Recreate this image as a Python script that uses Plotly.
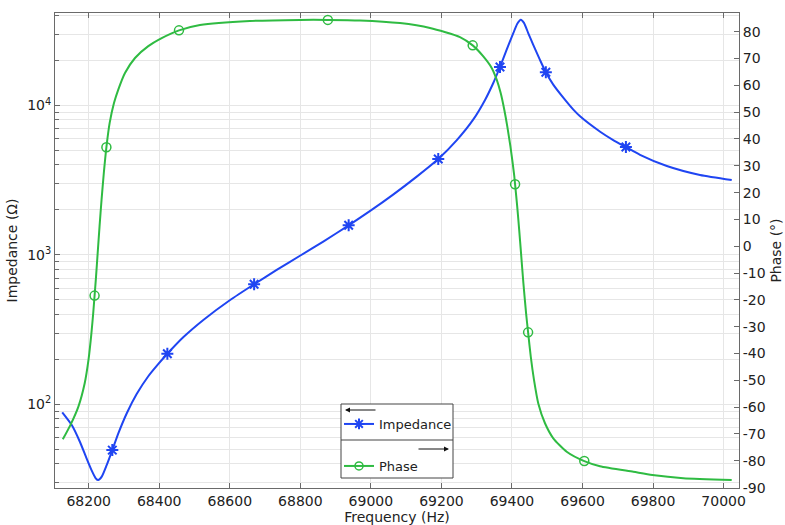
import plotly.graph_objects as go

# Impedance magnitude (ohm) versus frequency (Hz)
freq_imp = [68125, 68152, 68175, 68194, 68208, 68220, 68227, 68237, 68251, 68267,
            68284, 68308, 68336, 68369, 68397, 68423, 68468, 68525, 68601, 68669,
            68733, 68799, 68865, 68937, 68998, 69064, 69130, 69191, 69243, 69290,
            69324, 69347, 69366, 69385, 69404, 69415, 69425, 69434, 69446, 69460,
            69479, 69496, 69517, 69546, 69574, 69593, 69650, 69687, 69723, 69763,
            69839, 69933, 70023]
impedance = [88.4, 72.7, 56.2, 43.5, 36.3, 32.0, 31.1, 32.8, 39.2, 49.4,
             63.9, 87.2, 117.2, 154.2, 185.8, 218, 281, 367, 499, 636,
             793, 987, 1228, 1578, 1970, 2543, 3343, 4385, 5842, 8035,
             10935, 14148, 18096, 23634, 30573, 35280, 37520, 35730, 30550, 25530,
             20260, 16680, 13780, 11230, 9374, 8468, 6676, 5874, 5275, 4677,
             3936, 3428, 3172]

# Phase (degrees) versus frequency (Hz)
freq_phase = [68126.6, 68148.4, 68170.8, 68188.7, 68199.4, 68207.7, 68212.8, 68216.7,
              68220.8, 68225.5, 68230.8, 68236.5, 68242.9, 68250.2, 68259.5, 68271.7,
              68283.9, 68302.9, 68331.3, 68369.0, 68407.0, 68456.0, 68515.5, 68657.0,
              68798.6, 68878.0, 68969.0, 69082.5, 69167.6, 69252.6, 69288.6, 69318.7,
              69342.5, 69356.7, 69368.0, 69378.2, 69386.7, 69395.5, 69402.0, 69406.6,
              69408.8, 69414.8, 69420.4, 69425.6, 69432.4, 69440.0, 69445.7, 69453.3,
              69462.4, 69474.6, 69493.6, 69517.1, 69555.1, 69605.0, 69649.5, 69744.0,
              69797.8, 69885.7, 70022.9]
phase = [-72.0, -66.6, -59.8, -51.1, -42.4, -32.5, -25.0, -18.4,
         -11.4, -2.5, 7.4, 17.4, 27.3, 36.9, 46.0, 53.4,
         58.4, 64.6, 70.2, 74.6, 77.6, 80.5, 82.5, 84.0,
         84.4, 84.4, 84.2, 83.2, 81.4, 78.0, 74.9, 70.8,
         66.5, 62.1, 57.1, 50.9, 44.7, 37.3, 31.0, 26.1,
         23.1, 14.9, 6.2, -2.5, -13.8, -25.0, -32.1, -41.2,
         -49.8, -58.6, -66.0, -71.6, -76.6, -80.1, -82.0, -84.1,
         -85.3, -86.5, -87.2]

# Marker positions along each curve
imp_marker_freq = [68267, 68423, 68669, 68937, 69191, 69366, 69496, 69723]
imp_marker_val = [49.4, 218, 636, 1578, 4385, 18096, 16680, 5275]
phase_marker_freq = [68216.7, 68250.2, 68456.0, 68878.0, 69288.6, 69408.8, 69445.7, 69605.0]
phase_marker_val = [-18.4, 36.9, 80.5, 84.4, 74.9, 23.1, -32.1, -80.1]

x_ticks = [68200, 68400, 68600, 68800, 69000, 69200, 69400, 69600, 69800, 70000]
y_ticks = [100, 1000, 10000]
y_tick_text = ["10<sup>2</sup>", "10<sup>3</sup>", "10<sup>4</sup>"]
phase_ticks = [-90, -80, -70, -60, -50, -40, -30, -20, -10, 0,
               10, 20, 30, 40, 50, 60, 70, 80]

BLUE = "#1f45f2"
GREEN = "#2fbb42"
FONT = "DejaVu Sans"
TXT = "#222222"
GRID = "#e6e6e6"
AXIS = "#6a6a6a"

fig = go.Figure()

fig.add_trace(go.Scatter(x=freq_imp, y=impedance, mode="lines",
                         line=dict(color=BLUE, width=2, shape="spline", smoothing=0.6),
                         showlegend=False, hoverinfo="skip"))
fig.add_trace(go.Scatter(x=imp_marker_freq, y=imp_marker_val, mode="markers",
                         marker=dict(symbol="asterisk-open", size=10, color=BLUE,
                                     line=dict(color=BLUE, width=2)),
                         showlegend=False))
fig.add_trace(go.Scatter(x=freq_phase, y=phase, mode="lines", yaxis="y2",
                         line=dict(color=GREEN, width=2, shape="spline", smoothing=0.6),
                         showlegend=False, hoverinfo="skip"))
fig.add_trace(go.Scatter(x=phase_marker_freq, y=phase_marker_val, mode="markers", yaxis="y2",
                         marker=dict(symbol="circle-open", size=9, color=GREEN,
                                     line=dict(color=GREEN, width=1.5)),
                         showlegend=False))

# Legend entries
fig.add_trace(go.Scatter(x=[None], y=[None], mode="lines+markers", name="Impedance",
                         line=dict(color=BLUE, width=2),
                         marker=dict(symbol="asterisk-open", size=9, color=BLUE,
                                     line=dict(color=BLUE, width=2)),
                         legend="legend"))
fig.add_trace(go.Scatter(x=[None], y=[None], mode="lines+markers", name="Phase", yaxis="y2",
                         line=dict(color=GREEN, width=2),
                         marker=dict(symbol="circle-open", size=8, color=GREEN,
                                     line=dict(color=GREEN, width=1.5)),
                         legend="legend2"))

# minor log ticks 2..9 in each decade
minor_vals = [m * 10 ** e for e in range(1, 5) for m in range(2, 10)]
title_font = dict(family=FONT, size=14, color=TXT)

fig.update_layout(
    width=785, height=525,
    margin=dict(l=55, r=46, t=13, b=37),
    paper_bgcolor="white", plot_bgcolor="white",
    font=dict(family=FONT, size=14, color=TXT),
    xaxis=dict(range=[68104.5, 70043.6], tickvals=x_ticks,
               ticktext=[str(v) for v in x_ticks], ticks="inside", ticklen=5,
               tickcolor=AXIS, showline=True, linecolor=AXIS, linewidth=1, mirror="ticks",
               showgrid=True, gridcolor=GRID, zeroline=False, automargin=False,
               title=dict(text="Frequency (Hz)", font=title_font, standoff=6)),
    yaxis=dict(type="log", range=[1.44, 4.619], tickvals=y_ticks, ticktext=y_tick_text,
               ticks="inside", ticklen=5, tickcolor=AXIS,
               showline=True, linecolor=AXIS, linewidth=1,
               showgrid=True, gridcolor=GRID, zeroline=False, automargin=False,
               minor=dict(tickmode="array", tickvals=minor_vals, ticks="inside",
                          ticklen=4, tickcolor=AXIS, showgrid=True, gridcolor=GRID),
               title=dict(text="Impedance (Ω)", font=title_font, standoff=6)),
    yaxis2=dict(overlaying="y", side="right", range=[-90.14, 86.97],
                tickvals=phase_ticks, ticktext=[str(v) for v in phase_ticks],
                ticks="inside", ticklen=5, tickcolor=AXIS, showline=True,
                linecolor=AXIS, linewidth=1, showgrid=False, zeroline=False,
                automargin=False,
                title=dict(text="Phase (°)", font=title_font, standoff=6)),
    legend=dict(x=(339 - 55) / 684, y=(488 - 424) / 475, xanchor="left", yanchor="middle",
                bgcolor="rgba(0,0,0,0)", borderwidth=0, font=dict(size=13)),
    legend2=dict(x=(339 - 55) / 684, y=(488 - 466) / 475, xanchor="left", yanchor="middle",
                 bgcolor="rgba(0,0,0,0)", borderwidth=0, font=dict(size=13)),
    shapes=[
        dict(type="rect", xref="paper", yref="paper",
             x0=(341 - 55) / 684, x1=(453 - 55) / 684,
             y0=(488 - 478) / 475, y1=(488 - 404) / 475,
             line=dict(color="#444444", width=1), fillcolor="white", layer="above"),
        dict(type="line", xref="paper", yref="paper",
             x0=(341 - 55) / 684, x1=(453 - 55) / 684,
             y0=(488 - 440) / 475, y1=(488 - 440) / 475,
             line=dict(color="#444444", width=1), layer="above"),
    ],
    annotations=[
        dict(xref="paper", yref="paper", x=(345 - 55) / 684, y=(488 - 410) / 475,
             ax=32, ay=0, axref="pixel", ayref="pixel", text="", showarrow=True,
             arrowhead=2, arrowsize=1, arrowwidth=1, arrowcolor="#111111"),
        dict(xref="paper", yref="paper", x=(449 - 55) / 684, y=(488 - 449) / 475,
             ax=-32, ay=0, axref="pixel", ayref="pixel", text="", showarrow=True,
             arrowhead=2, arrowsize=1, arrowwidth=1, arrowcolor="#111111"),
    ],
)

fig.write_html("out.html")
